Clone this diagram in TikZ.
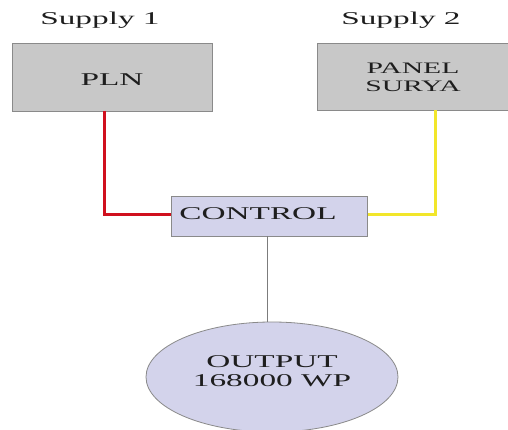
\documentclass[tikz,border=0pt]{standalone}
\usepackage{fontspec}
\setmainfont[FakeStretch=1.85]{Liberation Serif}
\usetikzlibrary{shapes.geometric}
\definecolor{boxgray}{HTML}{C8C8C8}
\definecolor{boxedge}{HTML}{8A8A8A}
\definecolor{lav}{HTML}{D3D3EB}
\definecolor{redline}{HTML}{D0101E}
\definecolor{yelline}{HTML}{F2E62A}
\definecolor{txt}{HTML}{1E1E1E}
\begin{document}
\begin{tikzpicture}[x=1pt,y=-1pt,
  supply/.style={rectangle,fill=boxgray,draw=boxedge,line width=0.8pt,inner sep=0pt},
  ctrl/.style={rectangle,fill=lav,draw=boxedge,line width=0.8pt,inner sep=0pt},
  outp/.style={ellipse,fill=lav,draw=boxedge,line width=0.8pt,inner sep=0pt},
  lbl/.style={text=txt,font=\fontsize{18}{18}\selectfont,inner sep=0pt},
  lbltwo/.style={text=txt,font=\fontsize{16}{18}\selectfont,align=center,inner sep=0pt},
  lblout/.style={text=txt,font=\fontsize{18}{19}\selectfont,align=center,inner sep=0pt},
  redw/.style={draw=redline,line width=3pt},
  yelw/.style={draw=yelline,line width=3pt},
  grayw/.style={draw=boxedge!90!black,line width=1pt}]
\useasboundingbox (0,0) rectangle (508,430);
\fill[white] (0,0) rectangle (508,430);
% boxes
\node[supply,minimum width=200pt,minimum height=68pt] (pln) at (112,77) {};
\node[supply,minimum width=200pt,minimum height=67pt] (panel) at (417,76.5) {};
\node[ctrl,minimum width=196pt,minimum height=40pt] (control) at (269.5,216) {};
\node[outp,minimum width=252pt,minimum height=110pt] (output) at (272,377) {};
% labels
\node[lbl] (s1) at (100,20) {Supply 1};
\node[lbl] (s2) at (401,20) {Supply 2};
\node[lbl] (plnt) at (112,80) {PLN};
\node[lbltwo] (panelt) at (413,77) {PANEL\\SURYA};
\node[lbl] (ctrlt) at (258,214) {CONTROL};
\node[lblout] (outt) at (272,371) {OUTPUT\\168000 WP};
% connectors
\coordinate (rc) at (104,215);
\coordinate (yc) at (435,215);
\draw[redw] (104,111) -- (rc) -- (control.west |- rc);
\draw[yelw] (435,110) -- (yc) -- (control.east |- yc);
\draw[grayw] (267,236) -- (output.north -| 267,0);
\end{tikzpicture}
\end{document}
